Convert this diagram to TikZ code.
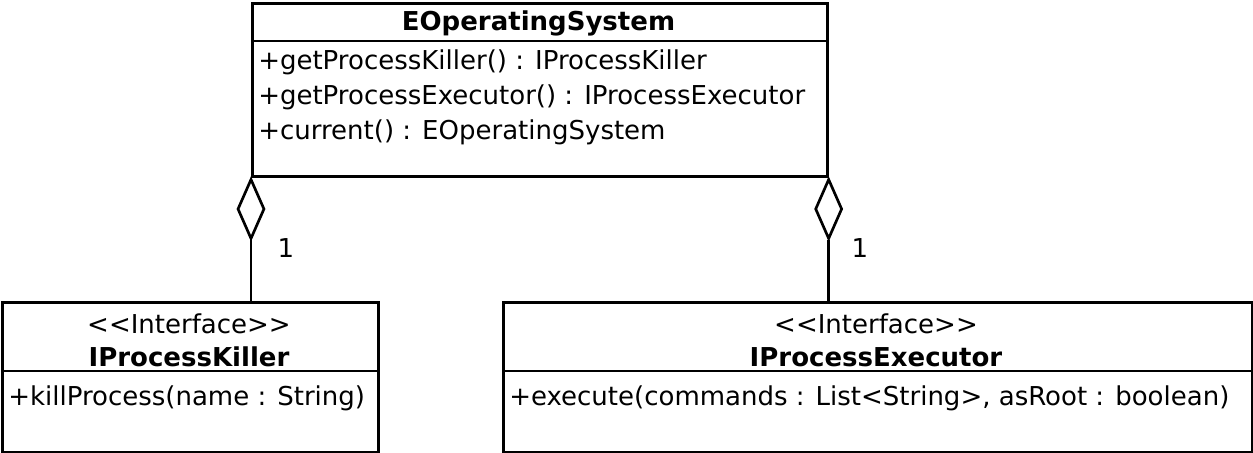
\documentclass[tikz,border=0pt]{standalone}
\usepackage{fontspec}
\setmainfont{DejaVu Sans}
\usetikzlibrary{shapes.geometric}
\begin{document}
\begin{tikzpicture}[x=0.75pt,y=-0.75pt,
    every node/.style={font=\fontsize{19.5}{23}\selectfont, inner sep=0pt},
    umlbox/.style={draw, line width=2pt, anchor=north west, minimum width=#1*0.75pt, minimum height=150*0.75pt},
    title/.style={font=\fontsize{19.5}{23}\selectfont\bfseries},
    op/.style={anchor=west},
    aggr/.style={diamond, draw, line width=2pt, fill=white, minimum width=27*0.75pt, minimum height=60*0.75pt}]
    \useasboundingbox (0,0) rectangle (1253,453);
    \node [umlbox=575, minimum height=173*0.75pt] (os) at (251,2) {};
    \node [umlbox=376] (killer) at (1,301) {};
    \node [umlbox=749] (exec) at (502,301) {};
    \draw [line width=2pt] ([yshift=-39*0.75pt]os.north west) -- ([yshift=-39*0.75pt]os.north east);
    \draw [line width=2pt] ([yshift=-70*0.75pt]killer.north west) -- ([yshift=-70*0.75pt]killer.north east);
    \draw [line width=2pt] ([yshift=-70*0.75pt]exec.north west) -- ([yshift=-70*0.75pt]exec.north east);
    \node [title] (ostitle) at (538.5,23) {EOperatingSystem};
    \node [op] (os1) at (258,62) {+getProcessKiller() : IProcessKiller};
    \node [op] (os2) at (258,97) {+getProcessExecutor() : IProcessExecutor};
    \node [op] (os3) at (258,132) {+current() : EOperatingSystem};
    \node (killerst) at (189,324) {<{}<Interface>{}>};
    \node [title] (killertitle) at (189,357) {IProcessKiller};
    \node [op] (killer1) at (8,398) {+killProcess(name : String)};
    \node (execst) at (876,324) {<{}<Interface>{}>};
    \node [title] (exectitle) at (876,357) {IProcessExecutor};
    \node [op] (exec1) at (509,398) {+execute(commands : List<String>, asRoot : boolean)};
    \node [aggr, anchor=north] (ak) at (os.south west) {};
    \node [aggr, anchor=north] (ae) at (os.south east) {};
    \draw [line width=2pt] (ak.south) -- (ak.south |- killer.north);
    \draw [line width=2pt] (ae.south) -- (ae.south |- exec.north);
    \node (mk) at (286,248) {1};
    \node (me) at (860,248) {1};
\end{tikzpicture}
\end{document}
